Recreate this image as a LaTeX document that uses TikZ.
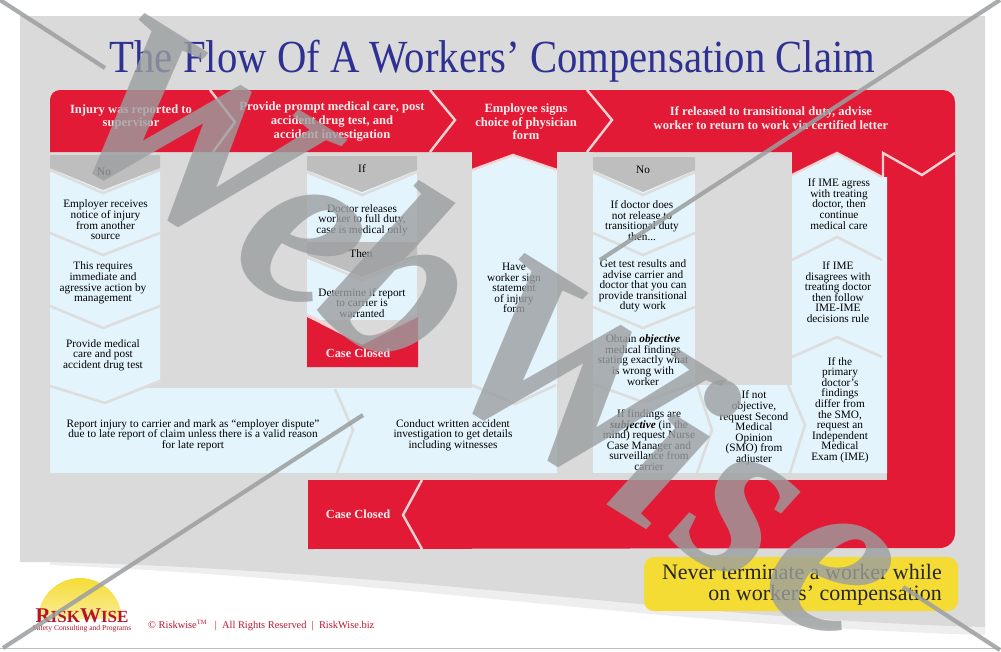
\documentclass[tikz,border=0pt]{standalone}
\usepackage{fontspec}
\setmainfont{Liberation Serif}
\newfontfamily\titlefont{Liberation Serif}
\usetikzlibrary{shadings}
\definecolor{rw}{HTML}{E21A36}
\definecolor{panelc}{HTML}{DADADA}
\definecolor{shadec}{HTML}{EEEEEE}
\definecolor{palec}{HTML}{E3F4FC}
\definecolor{capc}{HTML}{BEBEBE}
\definecolor{sepc}{HTML}{DDDDDD}
\definecolor{pinkline}{HTML}{F6D3D3}
\definecolor{navy}{HTML}{2E3192}
\definecolor{wm}{HTML}{9B9EA0}
\definecolor{sunc}{HTML}{F5DC35}
\newcommand{\fs}[2]{\fontsize{#1}{#2}\selectfont}
\tikzset{
  sepline/.style={draw=sepc,line width=2.6pt,line join=miter},
  pinkl/.style={draw=pinkline,line width=2.4pt},
  body/.style={align=center,inner sep=0pt,text=black,font=\fs{11.3}{10.6}},
  headtxt/.style={align=center,inner sep=0pt,text=pinkline!40!white,font=\bfseries\fs{12.6}{13.6}},
  closedtxt/.style={inner sep=0pt,text=pinkline!40!white,font=\bfseries\fs{12.4}{13}},
  wmline/.style={draw=wm,line width=4.2pt,opacity=.85},
  wmletter/.style={inner sep=0pt,rotate=-32,text=wm,text opacity=.8,font=\bfseries\itshape\fs{245}{245}}
}
\begin{document}
\begin{tikzpicture}[x=1pt,y=-1pt]
\useasboundingbox (0,0) rectangle (1001,651);
\fill[white] (0,0) rectangle (1001,651);
% panel
\fill[shadec] (50,565) .. controls (400,580) and (650,625) .. (985,635) -- (985,560) -- (50,540) -- cycle;
\fill[panelc] (20,16) -- (985,16) -- (985,627) .. controls (700,620) and (400,570) .. (50,562) -- (20,562) -- cycle;
\draw[line width=.6pt,color=black!25] (0,648) -- (1001,648);
% title
\node[inner sep=0pt,text=navy,font=\titlefont\fs{46}{46},anchor=base,xscale=.885] (title) at (492.5,72) {The Flow Of A Workers’ Compensation Claim};
% red frame
\fill[rw] (50,152) -- (50,100) arc[start angle=180,end angle=270,radius=10] -- (943,90) arc[start angle=270,end angle=360,radius=12] -- (955,533) arc[start angle=0,end angle=90,radius=15] -- (308,549) -- (308,480) -- (887,480) -- (887,177) -- (882,177) -- (837,153) -- (792,175) -- (792,152) -- (557,152) -- (557,170) -- (513,155) -- (472,170) -- (472,152) -- cycle;
% header chevrons
\draw[pinkl] (210,90) -- (235,122) -- (213,152);
\draw[pinkl] (430,90) -- (455,120) -- (430,152);
\draw[pinkl] (587,90) -- (612,120) -- (587,152);
\draw[pinkl] (883,177) -- (883,153) -- (922,175) -- (955,153);
\draw[pinkl] (422,480) -- (403,515) -- (422,549);
% pale panels
\fill[palec] (50,172) -- (160,172) -- (160,380) -- (105,403) -- (50,385) -- cycle;
\fill[palec] (50,388) -- (555,388) -- (555,473) -- (50,473) -- cycle;
\fill[palec] (472,170) -- (513,155) -- (557,170) -- (557,473) -- (472,473) -- cycle;
\fill[palec] (593,172) -- (695,172) -- (695,385) -- (593,385) -- cycle;
\fill[palec] (593,385) -- (792,385) -- (792,473) -- (593,473) -- cycle;
\fill[palec] (792,175) -- (837,153) -- (882,177) -- (887,177) -- (887,473) -- (792,473) -- cycle;
\fill[palec] (307,172) -- (417,172) -- (417,320) -- (307,320) -- cycle;
% col 1 top cap
\fill[capc] (50,155) -- (160,155) -- (160,168) -- (103,190) -- (50,168) -- cycle;
\draw[sepline] (50,170) -- (103,193) -- (160,170);
\draw[sepline] (50,233) -- (103,255) -- (160,233);
\draw[sepline] (50,306) -- (103,328) -- (160,306);
\draw[sepline] (50,386) -- (105,403) -- (160,381);
\draw[sepline] (472,385) -- (515,404) -- (556,385);
% col 2
\fill[capc] (307,156) -- (417,156) -- (417,170) -- (362,192) -- (307,170) -- cycle;
\draw[sepline] (307,172) -- (362,195) -- (417,172);
\fill[capc] (307,242) -- (417,242) -- (417,255) -- (362,277) -- (307,255) -- cycle;
\draw[sepline] (307,257) -- (362,280) -- (417,257);
\fill[rw] (307,317) -- (362,345) -- (418,317) -- (418,367) -- (307,367) -- cycle;
\draw[sepline,draw=pinkline] (307,315) -- (362,342) -- (418,315);
% col 4
\fill[capc] (593,157) -- (695,157) -- (695,170) -- (643,192) -- (593,170) -- cycle;
\draw[sepline] (593,172) -- (643,195) -- (695,172);
\draw[sepline] (593,233) -- (643,255) -- (695,233);
\draw[sepline] (593,307) -- (643,328) -- (695,307);
\draw[sepline] (593,384) -- (643,402) -- (695,383);
% separators
\draw[sepline] (335,389) -- (353,430) -- (337,473);
\draw[sepline] (697,385) -- (712,430) -- (697,473);
\draw[sepline] (788,385) -- (805,425) -- (790,473);
\draw[sepline] (792,260) -- (837,237) -- (882,260);
\draw[sepline] (792,357) -- (837,337) -- (882,357);
\draw[pinkl] (792,175) -- (837,153) -- (882,177);
\draw[pinkl] (472,170) -- (513,155) -- (557,170);
\fill[panelc] (557,152) rectangle (593,473);
% header texts
\node[headtxt] (h1) at (131,117) {Injury was reported to\\supervisor};
\node[headtxt] (h2) at (332,121.5) {Provide prompt medical care, post\\accident drug test, and\\accident investigation};
\node[headtxt] (h3) at (526,122) {Employee signs\\choice of physician\\form};
\node[headtxt] (h4) at (771,118) {If released to transitional duty, advise\\worker to return to work via certified letter};
% body texts col 1
\node[body] (n0) at (104,172) {No};
\node[body] (a1) at (105.5,220) {Employer receives\\notice of injury\\from another\\source};
\node[body] (a2) at (103,283) {This requires\\immediate and\\agressive action by\\management};
\node[body] (a3) at (103,355) {Provide medical\\care and post\\accident drug test};
\node[body] (a4) at (193,435) {Report injury to carrier and mark as “employer dispute”\\due to late report of claim unless there is a valid reason\\for late report};
\node[body] (a5) at (453,435) {Conduct written accident\\investigation to get details\\including witnesses};
% col 2
\node[body] (if) at (362,169) {If};
\node[body] (b1) at (362,220) {Doctor releases\\worker to full duty,\\case is medical only};
\node[body] (b2) at (361,254) {Then};
\node[body] (b3) at (362,303) {Determine if report\\to carrier is\\warranted};
\node[closedtxt] (cc1) at (358,353) {Case Closed};
\node[closedtxt] (cc2) at (358,514) {Case Closed};
% col 3
\node[body] (c1) at (514,288) {Have\\worker sign\\statement\\of injury\\form};
% col 4
\node[body] (n1) at (643,170) {No};
\node[body] (d1) at (642,220.5) {If doctor does\\not release to\\transitional duty\\then...};
\node[body] (d2) at (643,286) {Get test results and\\advise carrier and\\doctor that you can\\provide transitional\\duty work};
\node[body] (d3) at (643,360) {Obtain \textbf{\textit{objective}}\\medical findings\\stating exactly what\\is wrong with\\worker};
\node[body] (d4) at (649,440) {If findings are\\\textbf{\textit{subjective}} (in the\\mind) request Nurse\\Case Manager and\\surveillance from\\carrier};
\node[body] (d5) at (754,428) {If not\\objective,\\request Second\\Medical\\Opinion\\(SMO) from\\adjuster};
% col 5
\node[body] (e1) at (839,204) {If IME agress\\with treating\\doctor, then\\continue\\medical care};
\node[body] (e2) at (838,292) {If IME\\disagrees with\\treating doctor\\then follow\\IME-IME\\decisions rule};
\node[body] (e3) at (840,410) {If the\\primary\\doctor’s\\findings\\differ from\\the SMO,\\request an\\Independent\\Medical\\Exam (IME)};
% yellow
\fill[sunc,rounded corners=10pt] (644,557) rectangle (958,611);
\node[inner sep=0pt,align=right,anchor=east,font=\fs{22}{20.8},text=black!85] (y1) at (942,584.5) {Never terminate a worker while\\on workers’ compensation};
% footer
\node[inner sep=0pt,anchor=base west,font=\fs{10.4}{10},text=rw!85!black] (f1) at (148,628.5) {© Riskwise\textsuperscript{\fs{6.5}{6}TM} \ \ |\ \ All Rights Reserved \ |\ \ RiskWise.biz};
% logo
\begin{scope}
\clip (35,618) rectangle (130,575);
\shade[top color=sunc,bottom color=white] (80,620) ellipse (42 and 42);
\end{scope}
\node[inner sep=0pt,anchor=base,font=\bfseries\fs{21}{21},text=rw!80!black] (l1) at (82,622) {R\fs{17}{17}ISK\fs{21}{21}W\fs{17}{17}ISE};
\node[inner sep=0pt,anchor=base,font=\fs{7.6}{8},text=rw!80!black] (l2) at (82,630) {Safety Consulting and Programs};
% watermark
\draw[wmline] (0,0) -- (105,68);
\draw[wmline] (903,587) -- (1000,650);
\draw[wmline] (1000,0) -- (600,260);
\draw[wmline] (363,415) -- (3,648);
\node[wmletter] (wa) at (187,137) {\scalebox{1.12}[1]{W}};
\node[wmletter] (wb) at (300,245) {e};
\node[wmletter] (wc) at (408,275) {b};
\node[wmletter] (wd) at (567,377) {\scalebox{1.12}[1]{W}};
\node[wmletter] (we) at (675,447) {i};
\node[wmletter] (wf) at (738,518) {s};
\node[wmletter] (wg) at (829,574) {e};
\end{tikzpicture}
\end{document}
